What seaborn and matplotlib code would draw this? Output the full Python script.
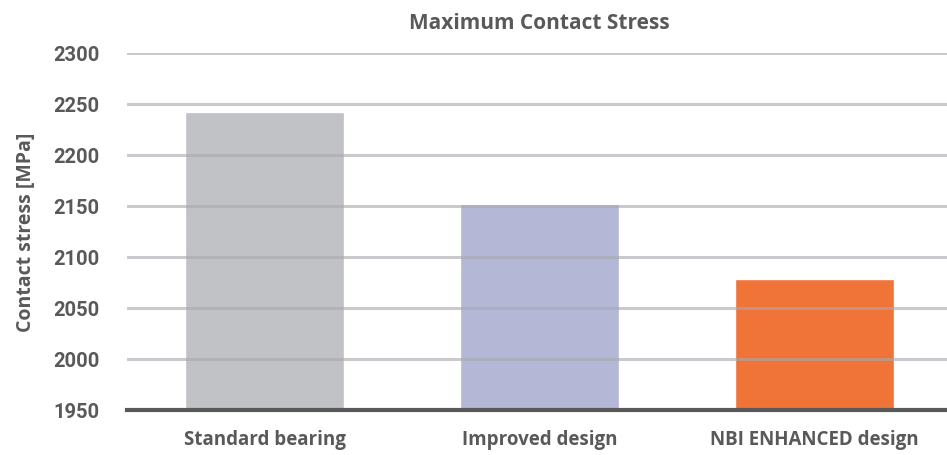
import matplotlib.pyplot as plt
import seaborn as sns
import pandas as pd

categories = ["Standard bearing", "Improved design", "NBI ENHANCED design"]
stress = [2242, 2152, 2078]
colors = ["#C1C2C5", "#B5B7D7", "#F07337"]
yticks = [1950, 2000, 2050, 2100, 2150, 2200, 2250, 2300]

df = pd.DataFrame({"design": categories, "stress": stress})

sns.set_style("white")
fig = plt.figure(figsize=(9.47, 4.56), dpi=100)
ax = fig.add_axes([127 / 947, 1 - 411 / 456, 825 / 947, (411 - 54) / 456])

sns.barplot(data=df, x="design", y="stress", hue="design", palette=colors,
            width=0.58, legend=False, ax=ax, saturation=1, zorder=2)

# bars start at the baseline, not at zero
for p in ax.patches:
    h = p.get_height()
    p.set_y(1950)
    p.set_height(h - 1950)

ax.set_ylim(1950, 2300)
ax.set_yticks(yticks)
ax.set_yticklabels([str(t) for t in yticks], fontfamily="Roboto",
                   fontweight="bold", fontsize=14.5, color="#595959")
ax.set_xticks(range(len(categories)))
ax.set_xticklabels(categories, fontfamily="Open Sans", fontweight="bold",
                   fontsize=13.5, color="#595959")
for y in yticks[1:]:
    ax.axhline(y, color="#A8A8AE", alpha=0.6, lw=2.2, zorder=3)

for s in ["top", "right", "left"]:
    ax.spines[s].set_visible(False)
ax.spines["bottom"].set_color("#595959")
ax.spines["bottom"].set_linewidth(3)
ax.spines["bottom"].set_zorder(4)

ax.tick_params(axis="both", length=0)
ax.tick_params(axis="y", pad=20)
ax.tick_params(axis="x", pad=14)

ax.set_xlabel("")
ax.set_ylabel("Contact stress [MPa]", fontfamily="Open Sans", fontweight="bold",
              fontsize=14, color="#595959", labelpad=12)
ax.set_title("Maximum Contact Stress", fontfamily="Open Sans", fontweight="bold",
             fontsize=15, color="#595959", pad=18)

fig.savefig("out.png", dpi=100)
